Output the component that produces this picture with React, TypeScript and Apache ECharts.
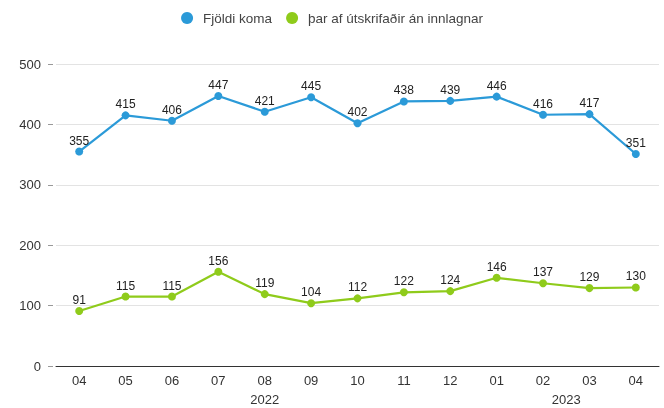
import React, { useEffect, useRef } from "react";
import * as echarts from "echarts";

const months = ["04", "05", "06", "07", "08", "09", "10", "11", "12", "01", "02", "03", "04"];
const years = ["2022", "2023"];
const yearSpans = [[0, 8], [9, 12]];
const visits = [355, 415, 406, 447, 421, 445, 402, 438, 439, 446, 416, 417, 351];
const discharged = [91, 115, 115, 156, 119, 104, 112, 122, 124, 146, 137, 129, 130];
const seriesNames = ["Fjöldi koma", "þar af útskrifaðir án innlagnar"];
const yTicks = { min: 0, max: 500, interval: 100 };

const FONT = "'Liberation Sans', Arial, sans-serif";
const BLUE = "#2b9ad8";
const GREEN = "#8fcb1b";

export default function App() {
  const ref = useRef<HTMLDivElement>(null);
  useEffect(() => {
    const chart = echarts.init(ref.current!, null, { renderer: "svg" });
    const mk = (name: string, data: number[], color: string) => ({
      name,
      type: "line",
      data,
      symbol: "circle",
      symbolSize: 8,
      lineStyle: { color, width: 2.2 },
      itemStyle: { color },
      label: {
        show: true,
        position: "top",
        distance: 1,
        color: "#222",
        fontSize: 12,
        fontFamily: FONT,
      },
    });
    chart.setOption({
      animation: false,
      textStyle: { fontFamily: FONT },
      legend: {
        top: 6,
        left: "center",
        icon: "circle",
        itemWidth: 12,
        itemHeight: 12,
        itemGap: 14,
        textStyle: { color: "#444", fontSize: 13.5, fontFamily: FONT, padding: [0, 0, 0, 5] },
        data: seriesNames,
      },
      grid: { left: 56, right: 5, top: 64, bottom: 42, containLabel: false },
      xAxis: {
        type: "category",
        data: months,
        boundaryGap: true,
        axisLine: { lineStyle: { color: "#333", width: 1 } },
        axisTick: { show: false },
        axisLabel: { color: "#333", fontSize: 13, margin: 8, fontFamily: FONT },
      },
      yAxis: {
        type: "value",
        min: yTicks.min,
        max: yTicks.max,
        interval: yTicks.interval,
        offset: 3,
        axisLine: { show: false },
        axisTick: { show: true, length: 5, inside: false, lineStyle: { color: "#999" } },
        axisLabel: { color: "#333", fontSize: 13, margin: 12, fontFamily: FONT },
        splitLine: { lineStyle: { color: "#e3e3e3", width: 1 } },
      },
      series: [mk(seriesNames[0], visits, BLUE), mk(seriesNames[1], discharged, GREEN)],
    });
    const yPix = chart.convertToPixel({ yAxisIndex: 0 }, 0) as number;
    const graphics = years.map((y, i) => {
      const [a, b] = yearSpans[i];
      const xa = chart.convertToPixel({ xAxisIndex: 0 }, a) as number;
      const xb = chart.convertToPixel({ xAxisIndex: 0 }, b) as number;
      return {
        type: "text",
        x: (xa + xb) / 2,
        y: yPix + 33,
        style: {
          text: y,
          fill: "#333",
          fontSize: 13,
          fontFamily: FONT,
          align: "center",
          verticalAlign: "middle",
        },
      };
    });
    chart.setOption({ graphic: graphics });
    return () => chart.dispose();
  }, []);
  return <div ref={ref} style={{ width: 664, height: 408, position: "fixed", left: 0, top: 0 }} />;
}
